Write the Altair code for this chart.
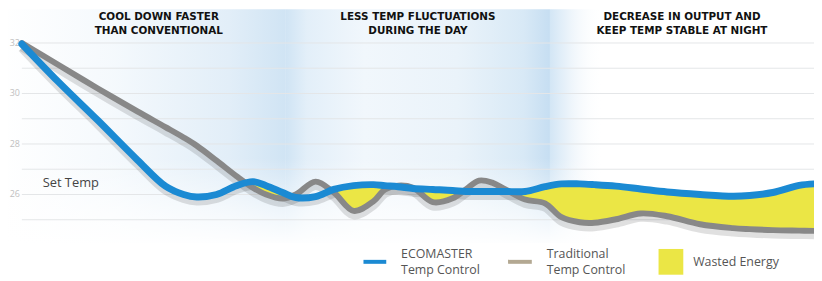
import altair as alt
import pandas as pd

# ---- data ----
hours = [0, 1.1, 2.3, 3.5, 4.35, 4.9, 5.3, 5.9, 6.5, 7.0,
         7.4, 7.9, 8.3, 8.9, 9.45, 10.05, 10.65, 11.0, 11.4, 11.85,
         12.45, 13.05, 13.45, 13.85, 14.25, 14.65, 15.25, 15.85, 16.35, 16.9,
         17.35, 18.0, 18.75, 19.55, 20.55, 21.55, 22.05, 22.75, 23.55, 24.0]
ecomaster = [31.96, 30.47, 28.94, 27.37, 26.33, 26.00, 25.90, 26.00, 26.35, 26.51,
             26.35, 26.08, 25.88, 25.92, 26.20, 26.35, 26.39, 26.35, 26.31, 26.24,
             26.20, 26.16, 26.12, 26.12, 26.12, 26.12, 26.12, 26.31, 26.42, 26.42,
             26.39, 26.33, 26.22, 26.10, 26.00, 25.93, 25.96, 26.08, 26.36, 26.42]
traditional = [32.00, 31.14, 30.20, 29.29, 28.67, 28.26, 27.93, 27.34, 26.73, 26.27,
               26.00, 25.84, 26.00, 26.51, 26.08, 25.35, 25.73, 26.20, 26.35, 26.27,
               25.70, 25.85, 26.20, 26.55, 26.47, 26.20, 25.80, 25.65, 25.10, 24.90,
               24.88, 25.02, 25.25, 25.14, 24.82, 24.67, 24.63, 24.59, 24.57, 24.56]

section_bounds = [-0.66, 8, 16, 24]
headers = ["COOL DOWN FASTER\nTHAN CONVENTIONAL",
           "LESS TEMP FLUCTUATIONS\nDURING THE DAY",
           "DECREASE IN OUTPUT AND\nKEEP TEMP STABLE AT NIGHT"]
header_x = [4.15, 12, 20]
grid_values = [25, 26, 27, 28, 29, 30, 31, 32]
label_values = [26, 28, 30, 32]
set_temp = 26
legend_two_line = ["ECOMASTER\nTemp Control", "Traditional\nTemp Control"]
legend_one_line = ["Wasted Energy"]

BLUE = "#1b8ad3"
GRAY = "#888888"
TAN = "#b3a892"
YELLOW = "#ebe645"
INTERP = "catmull-rom"

df = pd.DataFrame({"t": hours, "eco": ecomaster, "trad": traditional})

W, H = 800, 273
xs = alt.Scale(domain=[0, 24], nice=False, zero=False)
ys = alt.Scale(domain=[22.6275, 33.3333], nice=False, zero=False)


def grad(stops, vertical=False):
    return alt.Gradient(
        gradient="linear",
        stops=[alt.GradientStop(color=c, offset=o) for o, c in stops],
        x1=0, x2=0 if vertical else 1, y1=0, y2=1 if vertical else 0,
    )


base = alt.Chart(pd.DataFrame({"k": [0]}))

bg1 = base.mark_rect(color=grad([(0, "rgba(225,238,248,0)"), (0.4, "rgba(225,238,248,0.35)"),
                                 (0.8, "#e2eef8"), (1, "#d0e4f4")])).encode(
    x=alt.datum(section_bounds[0], scale=xs), x2=alt.datum(section_bounds[1]),
    y=alt.value(0), y2=alt.value(236))
bg2 = base.mark_rect(color=grad([(0, "#d0e4f4"), (0.08, "#e3eff9"), (0.3, "#f1f7fc"),
                                 (0.65, "#eaf3fa"), (0.9, "#d8e9f6"), (1, "#c6def2")])).encode(
    x=alt.datum(section_bounds[1], scale=xs), x2=alt.datum(section_bounds[2]),
    y=alt.value(0), y2=alt.value(236))
bg3 = base.mark_rect(color=grad([(0, "#d3e6f5"), (0.08, "#eef5fb"), (0.2, "rgba(255,255,255,0)"),
                                 (1, "rgba(255,255,255,0)")])).encode(
    x=alt.datum(section_bounds[2], scale=xs), x2=alt.datum(section_bounds[3]),
    y=alt.value(0), y2=alt.value(236))
fade = base.mark_rect(color=grad([(0, "rgba(255,255,255,0)"), (0.55, "rgba(255,255,255,0.6)"),
                                  (1, "#ffffff")], vertical=True)).encode(
    x=alt.value(-14), x2=alt.value(W), y=alt.value(150), y2=alt.value(240))

grid = alt.Chart(pd.DataFrame({"v": grid_values})).mark_rule(
    color="#e4e6e8", strokeWidth=1).encode(
    y=alt.Y("v:Q", scale=ys), x=alt.value(0), x2=alt.value(W))

labels = alt.Chart(pd.DataFrame({"v": label_values})).mark_text(
    align="right", baseline="middle", fontSize=9, color="#c0c0c0", font="Open Sans").encode(
    y=alt.Y("v:Q", scale=ys), x=alt.value(-2), text=alt.Text("v:Q"))

set_label = alt.Chart(pd.DataFrame({"v": [set_temp], "s": ["Set Temp"]})).mark_text(
    align="left", baseline="middle", fontSize=13, color="#444444", font="Open Sans", dy=-12).encode(
    y=alt.Y("v:Q", scale=ys), x=alt.value(21), text="s:N")

head = alt.Chart(pd.DataFrame({"x": header_x, "h": headers})).mark_text(
    align="center", baseline="middle", fontSize=10.5, fontWeight="bold", color="#111111",
    font="DejaVu Sans", lineBreak="\n", lineHeight=14).encode(
    x=alt.X("x:Q", scale=xs), y=alt.value(8), text="h:N")

lines = alt.Chart(df)
waste = lines.transform_calculate(lo="min(datum.eco, datum.trad)").mark_area(
    color=YELLOW, interpolate=INTERP, opacity=1).encode(
    x=alt.X("t:Q", scale=xs), y=alt.Y("eco:Q", scale=ys), y2="lo:Q")
shadow_t = lines.mark_line(color="#000000", opacity=0.12, strokeWidth=9, interpolate=INTERP,
                           yOffset=4).encode(x=alt.X("t:Q", scale=xs), y=alt.Y("trad:Q", scale=ys))
shadow_e = lines.mark_line(color="#000000", opacity=0.12, strokeWidth=9, interpolate=INTERP,
                           yOffset=4).encode(x=alt.X("t:Q", scale=xs), y=alt.Y("eco:Q", scale=ys))
trad_line = lines.mark_line(color=GRAY, strokeWidth=6, interpolate=INTERP,
                            strokeCap="round").encode(x=alt.X("t:Q", scale=xs), y=alt.Y("trad:Q", scale=ys))
eco_line = lines.mark_line(color=BLUE, strokeWidth=7, interpolate=INTERP,
                           strokeCap="round").encode(x=alt.X("t:Q", scale=xs), y=alt.Y("eco:Q", scale=ys))

# legend
lg_blue = base.mark_rule(color=BLUE, strokeWidth=4).encode(
    x=alt.value(345), x2=alt.value(368), y=alt.value(255))
lg_tan = base.mark_rule(color=TAN, strokeWidth=4).encode(
    x=alt.value(491), x2=alt.value(515), y=alt.value(255))
lg_yel = base.mark_rect(color=YELLOW).encode(
    x=alt.value(643), x2=alt.value(668), y=alt.value(242), y2=alt.value(268))
lg_text2 = alt.Chart(pd.DataFrame({"s": legend_two_line, "px": [383, 530]})).mark_text(
    align="left", baseline="middle", fontSize=12.5, color="#555555", font="Open Sans",
    lineBreak="\n", lineHeight=16).encode(
    x=alt.X("px:Q", scale=None), y=alt.value(247), text="s:N")
lg_text1 = alt.Chart(pd.DataFrame({"s": legend_one_line, "px": [678]})).mark_text(
    align="left", baseline="middle", fontSize=12.5, color="#555555", font="Open Sans").encode(
    x=alt.X("px:Q", scale=None), y=alt.value(255), text="s:N")

chart = alt.layer(
    bg1, bg2, bg3, fade, grid, labels, set_label, head,
    shadow_t, shadow_e, waste, trad_line, eco_line,
    lg_blue, lg_tan, lg_yel, lg_text2, lg_text1,
).properties(
    width=W, height=H,
    autosize=alt.AutoSizeParams(type="none"),
    padding={"left": 14, "top": 0, "right": 0, "bottom": 0},
).configure_view(stroke=None).configure_axis(grid=False, domain=False, ticks=False, labels=False, title=None)

chart.save("out.html", embed_options={"renderer": "svg", "actions": False})
